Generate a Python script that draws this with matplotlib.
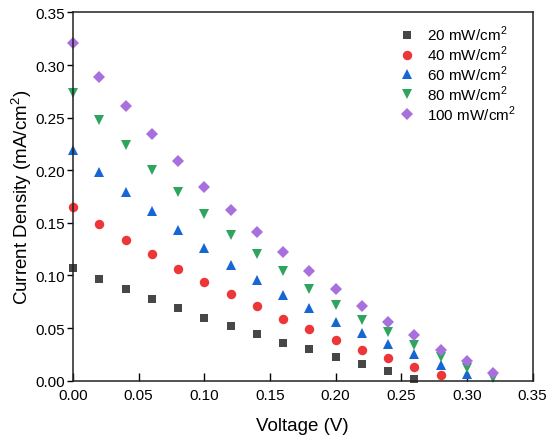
import matplotlib
matplotlib.use("Agg")
import matplotlib.pyplot as plt
import numpy as np

plt.rcParams['font.family'] = ['Liberation Sans', 'DejaVu Sans']
plt.rcParams['mathtext.fontset'] = 'custom'
plt.rcParams['mathtext.rm'] = 'Liberation Sans'

# J-V data at different light intensities
voltage = [0.00, 0.02, 0.04, 0.06, 0.08, 0.10, 0.12, 0.14, 0.16,
           0.18, 0.20, 0.22, 0.24, 0.26, 0.28, 0.30, 0.32]

j_20 = [0.107, 0.097, 0.087, 0.078, 0.069, 0.060, 0.052, 0.044, 0.036,
        0.030, 0.023, 0.016, 0.009, 0.002]
j_40 = [0.165, 0.149, 0.134, 0.120, 0.106, 0.094, 0.082, 0.071, 0.059,
        0.049, 0.039, 0.029, 0.022, 0.013, 0.005]
j_60 = [0.219, 0.198, 0.179, 0.161, 0.143, 0.1265, 0.110, 0.096, 0.081,
        0.069, 0.056, 0.045, 0.035, 0.025, 0.015, 0.006]
j_80 = [0.273, 0.248, 0.224, 0.200, 0.179, 0.158, 0.138, 0.120, 0.104,
        0.087, 0.072, 0.058, 0.046, 0.034, 0.023, 0.012, 0.003]
j_100 = [0.321, 0.289, 0.261, 0.234, 0.209, 0.184, 0.162, 0.141, 0.122,
         0.104, 0.087, 0.071, 0.056, 0.043, 0.029, 0.019, 0.007]

labels = ['20 mW/cm$^2$', '40 mW/cm$^2$', '60 mW/cm$^2$',
          '80 mW/cm$^2$', '100 mW/cm$^2$']
series = [j_20, j_40, j_60, j_80, j_100]
colors = ['#474747', '#ec3638', '#1766d6', '#2ea45f', '#a96fdc']
markers = ['s', 'o', '^', 'v', 'D']
sizes = [5.8, 6.8, 7.2, 7.2, 5.8]

fig = plt.figure(figsize=(5.53, 4.39), dpi=100)
ax = fig.add_axes([0.132, 0.1305, 0.831, 0.839])

for j, lab, c, m, s in zip(series, labels, colors, markers, sizes):
    ax.plot(voltage[:len(j)], j, linestyle='none', marker=m, color=c,
            markersize=s, markeredgewidth=0, label=lab, clip_on=False)

ax.set_xlim(0, 0.35)
ax.set_ylim(0, 0.35)
ax.set_xticks(np.arange(0, 0.351, 0.05))
ax.set_yticks(np.arange(0, 0.351, 0.05))
ax.xaxis.set_major_formatter(matplotlib.ticker.FormatStrFormatter('%.2f'))
ax.yaxis.set_major_formatter(matplotlib.ticker.FormatStrFormatter('%.2f'))
ax.tick_params(axis='x', direction='in', length=6, width=1, labelsize=11, pad=5)
ax.tick_params(axis='y', direction='out', length=4, width=1, labelsize=11, pad=2)
for sp in ax.spines.values():
    sp.set_linewidth(1.1)
    sp.set_color('#222222')

ax.set_xlabel('Voltage (V)', fontsize=13.5, labelpad=11)
ax.set_ylabel('Current Density (mA/cm$^2$)', fontsize=13.5, labelpad=1)

ax.legend(loc='upper left', frameon=False, fontsize=11, handletextpad=0.63,
          labelspacing=0.04, borderaxespad=0.0, bbox_to_anchor=(0.69, 0.986),
          handlelength=1.4)

fig.savefig('out.png', dpi=100)
